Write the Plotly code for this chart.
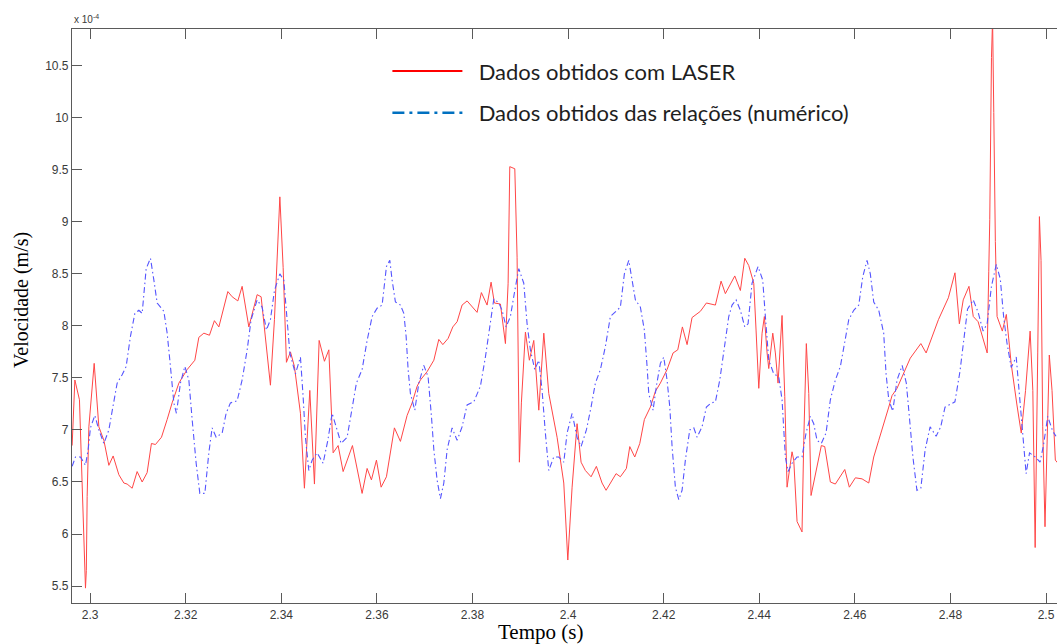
import plotly.graph_objects as go

# Velocity in units of 1e-4 m/s, time in s
laser_t = [
    2.29623, 2.29680, 2.29776, 2.29847, 2.29902, 2.29920, 2.29937, 2.29973, 2.30084, 2.30182,
    2.30287, 2.30391, 2.30481, 2.30600, 2.30705, 2.30774, 2.30879, 2.30983, 2.31088, 2.31192,
    2.31282, 2.31366, 2.31492, 2.31611, 2.31715, 2.31856, 2.32029, 2.32190, 2.32274, 2.32379,
    2.32496, 2.32600, 2.32693, 2.32881, 2.32971, 2.33090, 2.33180, 2.33320, 2.33494, 2.33577,
    2.33772, 2.33856, 2.33969, 2.34038, 2.34107, 2.34191, 2.34274, 2.34400, 2.34483, 2.34596,
    2.34693, 2.34791, 2.34902, 2.34994, 2.35084, 2.35188, 2.35293, 2.35488, 2.35690, 2.35795,
    2.35885, 2.35990, 2.36088, 2.36199, 2.36366, 2.36492, 2.36632, 2.36737, 2.36841, 2.36910,
    2.37050, 2.37191, 2.37295, 2.37379, 2.37490, 2.37588, 2.37678, 2.37782, 2.37887, 2.38096,
    2.38186, 2.38305, 2.38389, 2.38458, 2.38584, 2.38689, 2.38745, 2.38780, 2.38885, 2.38933,
    2.38981, 2.39023, 2.39107, 2.39190, 2.39282, 2.39387, 2.39492, 2.39596, 2.39770, 2.39910,
    2.39994, 2.40084, 2.40188, 2.40272, 2.40362, 2.40481, 2.40592, 2.40711, 2.40795, 2.41004,
    2.41094, 2.41220, 2.41291, 2.41395, 2.41500, 2.41596, 2.41722, 2.41826, 2.41931, 2.42071,
    2.42197, 2.42295, 2.42392, 2.42490, 2.42594, 2.42768, 2.42894, 2.43082, 2.43201, 2.43291,
    2.43488, 2.43605, 2.43697, 2.43780, 2.43885, 2.43933, 2.43990, 2.44059, 2.44107, 2.44164,
    2.44199, 2.44283, 2.44337, 2.44393, 2.44477, 2.44534, 2.44582, 2.44686, 2.44722, 2.44791,
    2.44895, 2.44931, 2.44985, 2.45036, 2.45084, 2.45299, 2.45370, 2.45488, 2.45592, 2.45789,
    2.45885, 2.46011, 2.46151, 2.46291, 2.46395, 2.46500, 2.46626, 2.46710, 2.46778, 2.46883,
    2.47160, 2.47381, 2.47492, 2.47749, 2.47957, 2.48095, 2.48187, 2.48268, 2.48388, 2.48478,
    2.48580, 2.48685, 2.48769, 2.48802, 2.48823, 2.48859, 2.48882, 2.48907, 2.48940, 2.48976,
    2.49086, 2.49170, 2.49273, 2.49392, 2.49482, 2.49572, 2.49668, 2.49724, 2.49773, 2.49827,
    2.49862, 2.49896, 2.49931, 2.49979, 2.50036, 2.50069, 2.50126, 2.50195, 2.50250,
]
laser_v = [
    6.85, 7.48, 7.29, 6.20, 5.48, 5.65, 6.36, 7.03, 7.64, 7.03,
    6.90, 6.66, 6.75, 6.57, 6.49, 6.48, 6.44, 6.60, 6.50, 6.59,
    6.87, 6.86, 6.93, 7.10, 7.26, 7.45, 7.58, 7.67, 7.89, 7.93,
    7.91, 8.05, 7.99, 8.33, 8.28, 8.24, 8.38, 7.99, 8.30, 8.28,
    7.43, 8.06, 9.24, 8.56, 7.65, 7.75, 7.61, 7.16, 6.44, 7.38,
    6.48, 7.86, 7.66, 7.77, 6.78, 6.85, 6.60, 6.85, 6.39, 6.63,
    6.52, 6.71, 6.45, 6.55, 7.02, 6.89, 7.14, 7.26, 7.42, 7.48,
    7.56, 7.67, 7.87, 7.82, 7.88, 7.99, 8.04, 8.20, 8.24, 8.13,
    8.32, 8.20, 8.42, 8.22, 8.21, 7.83, 8.41, 9.53, 9.51, 8.66,
    6.69, 7.26, 7.94, 7.67, 7.86, 7.19, 7.93, 7.35, 6.93, 6.49,
    5.75, 6.45, 7.06, 6.69, 6.61, 6.55, 6.65, 6.49, 6.42, 6.58,
    6.55, 6.63, 6.84, 6.74, 6.87, 7.10, 7.22, 7.37, 7.45, 7.58,
    7.74, 7.77, 7.99, 7.82, 8.08, 8.14, 8.22, 8.20, 8.43, 8.31,
    8.48, 8.34, 8.65, 8.58, 8.41, 7.96, 7.40, 7.93, 8.09, 7.74,
    7.59, 7.93, 7.74, 7.45, 8.10, 7.32, 6.45, 6.79, 6.71, 6.12,
    6.02, 6.90, 7.83, 7.35, 6.37, 6.85, 6.84, 6.50, 6.48, 6.62,
    6.45, 6.54, 6.53, 6.49, 6.74, 6.90, 7.08, 7.22, 7.33, 7.40,
    7.69, 7.83, 7.74, 8.06, 8.27, 8.51, 8.02, 8.25, 8.38, 8.09,
    8.04, 7.86, 7.74, 8.52, 9.02, 10.58, 10.95, 10.05, 8.81, 8.09,
    7.95, 8.11, 7.63, 7.24, 6.97, 7.38, 7.95, 7.38, 5.87, 7.74,
    9.05, 8.63, 7.03, 6.07, 7.20, 7.72, 7.38, 6.71, 6.68,
]

numeric_t = [
    2.29623, 2.29692, 2.29797, 2.29902, 2.29958, 2.30006, 2.30098, 2.30182, 2.30287, 2.30391,
    2.30475, 2.30565, 2.30669, 2.30753, 2.30843, 2.30935, 2.31019, 2.31088, 2.31172, 2.31262,
    2.31333, 2.31402, 2.31542, 2.31611, 2.31680, 2.31751, 2.31805, 2.31889, 2.31981, 2.32065,
    2.32134, 2.32218, 2.32295, 2.32400, 2.32483, 2.32552, 2.32636, 2.32762, 2.32845, 2.32935,
    2.33075, 2.33180, 2.33285, 2.33368, 2.33494, 2.33598, 2.33688, 2.33772, 2.33856, 2.33969,
    2.34052, 2.34121, 2.34178, 2.34295, 2.34400, 2.34456, 2.34504, 2.34575, 2.34644, 2.34749,
    2.34874, 2.34973, 2.35063, 2.35167, 2.35251, 2.35377, 2.35481, 2.35571, 2.35690, 2.35795,
    2.35900, 2.36004, 2.36109, 2.36199, 2.36270, 2.36318, 2.36387, 2.36492, 2.36563, 2.36611,
    2.36653, 2.36701, 2.36793, 2.36877, 2.36981, 2.37071, 2.37141, 2.37191, 2.37259, 2.37329,
    2.37400, 2.37469, 2.37573, 2.37678, 2.37782, 2.37887, 2.38027, 2.38165, 2.38270, 2.38354,
    2.38446, 2.38550, 2.38619, 2.38703, 2.38793, 2.38885, 2.38969, 2.39073, 2.39142, 2.39211,
    2.39303, 2.39387, 2.39456, 2.39525, 2.39596, 2.39700, 2.39805, 2.39910, 2.39979, 2.40084,
    2.40188, 2.40272, 2.40383, 2.40481, 2.40571, 2.40676, 2.40780, 2.40885, 2.40990, 2.41094,
    2.41178, 2.41270, 2.41339, 2.41408, 2.41513, 2.41596, 2.41653, 2.41688, 2.41778, 2.41847,
    2.41931, 2.42002, 2.42071, 2.42128, 2.42176, 2.42245, 2.42316, 2.42385, 2.42454, 2.42546,
    2.42630, 2.42699, 2.42803, 2.42894, 2.42992, 2.43082, 2.43174, 2.43257, 2.43362, 2.43431,
    2.43515, 2.43605, 2.43697, 2.43766, 2.43849, 2.43975, 2.44073, 2.44128, 2.44199, 2.44303,
    2.44408, 2.44477, 2.44513, 2.44546, 2.44603, 2.44686, 2.44791, 2.44895, 2.44979, 2.45069,
    2.45140, 2.45209, 2.45299, 2.45397, 2.45488, 2.45592, 2.45697, 2.45789, 2.45873, 2.45977,
    2.46082, 2.46165, 2.46255, 2.46324, 2.46395, 2.46500, 2.46604, 2.46653, 2.46710, 2.46793,
    2.46883, 2.46990, 2.47077, 2.47146, 2.47215, 2.47299, 2.47381, 2.47471, 2.47575, 2.47701,
    2.47797, 2.47887, 2.48094, 2.48199, 2.48268, 2.48358, 2.48477, 2.48580, 2.48684, 2.48768,
    2.48858, 2.48960, 2.49044, 2.49113, 2.49182, 2.49272, 2.49377, 2.49433, 2.49502, 2.49584,
    2.49655, 2.49778, 2.49875, 2.49946, 2.50036, 2.50138, 2.50209,
]
numeric_v = [
    6.65, 6.74, 6.74, 6.66, 6.81, 7.02, 7.14, 7.00, 6.87, 7.00,
    7.22, 7.45, 7.53, 7.61, 7.90, 8.12, 8.15, 8.12, 8.55, 8.65,
    8.44, 8.22, 8.14, 7.93, 7.61, 7.26, 7.16, 7.45, 7.61, 7.48,
    7.10, 6.68, 6.39, 6.39, 6.78, 7.02, 6.93, 6.97, 7.16, 7.26,
    7.28, 7.48, 7.77, 8.06, 8.25, 8.18, 7.96, 8.06, 8.34, 8.50,
    8.44, 8.06, 7.74, 7.54, 7.70, 7.32, 6.93, 6.61, 6.71, 6.78,
    6.68, 6.90, 7.16, 7.00, 6.87, 6.93, 7.22, 7.45, 7.58, 7.86,
    8.09, 8.17, 8.20, 8.57, 8.63, 8.44, 8.23, 8.20, 8.12, 7.90,
    7.58, 7.35, 7.19, 7.45, 7.62, 7.51, 7.13, 6.81, 6.52, 6.34,
    6.49, 6.81, 7.02, 6.90, 7.03, 7.24, 7.27, 7.42, 7.70, 7.99,
    8.26, 8.22, 8.15, 7.99, 8.09, 8.34, 8.55, 8.41, 8.02, 7.77,
    7.58, 7.67, 7.38, 6.97, 6.61, 6.74, 6.74, 6.69, 6.97, 7.16,
    6.93, 6.84, 7.00, 7.22, 7.45, 7.58, 7.80, 8.09, 8.14, 8.18,
    8.50, 8.63, 8.44, 8.25, 8.18, 7.96, 7.61, 7.35, 7.19, 7.42,
    7.64, 7.70, 7.48, 7.22, 6.84, 6.45, 6.33, 6.42, 6.71, 7.00,
    7.02, 6.93, 7.03, 7.22, 7.26, 7.27, 7.48, 7.77, 8.09, 8.20,
    8.25, 8.15, 7.99, 8.02, 8.41, 8.57, 8.44, 8.09, 7.67, 7.54,
    7.51, 7.29, 6.97, 6.74, 6.60, 6.68, 6.74, 6.74, 6.97, 7.13,
    7.06, 6.90, 6.87, 6.97, 7.29, 7.48, 7.61, 7.83, 8.06, 8.15,
    8.20, 8.47, 8.63, 8.50, 8.23, 8.15, 7.93, 7.54, 7.29, 7.18,
    7.48, 7.62, 7.45, 7.10, 6.74, 6.42, 6.44, 6.81, 7.03, 6.94,
    7.03, 7.22, 7.27, 7.56, 7.81, 8.16, 8.25, 8.13, 7.95, 8.02,
    8.38, 8.59, 8.45, 8.09, 7.84, 7.60, 7.70, 7.38, 6.96, 6.58,
    6.78, 6.74, 6.69, 6.85, 7.13, 6.99, 6.94,
]

x_ticks = [2.30, 2.32, 2.34, 2.36, 2.38, 2.40, 2.42, 2.44, 2.46, 2.48, 2.50]
x_tick_labels = ["2.3", "2.32", "2.34", "2.36", "2.38", "2.4", "2.42", "2.44", "2.46", "2.48", "2.5"]
y_ticks = [5.5, 6.0, 6.5, 7.0, 7.5, 8.0, 8.5, 9.0, 9.5, 10.0, 10.5]
y_tick_labels = ["5.5", "6", "6.5", "7", "7.5", "8", "8.5", "9", "9.5", "10", "10.5"]

series_names = ["Dados obtidos com LASER", "Dados obtidos das relações (numérico)"]

x_range = [2.2962, 2.5023]
y_range = [5.337, 10.853]

axis_color = "#5a5a5a"
tick_font = dict(family="Liberation Sans, Arial, sans-serif", size=12, color="#3a3a3a")
serif = "Liberation Serif, Times New Roman, serif"
pad = "\u00a0\u00a0"  # small gap between legend sample and its text

fig = go.Figure()

# measured signal
fig.add_trace(go.Scatter(
    x=laser_t, y=laser_v, mode="lines", showlegend=False,
    line=dict(color="rgb(255,70,70)", width=1),
))
# numerical signal
fig.add_trace(go.Scatter(
    x=numeric_t, y=numeric_v, mode="lines", showlegend=False,
    line=dict(color="rgb(85,85,255)", width=1.1, dash="6px,3px,1.5px,3px"),
))

# legend entries
fig.add_trace(go.Scatter(
    x=[None], y=[None], mode="lines", name=pad + series_names[0], legendgroup="a",
    line=dict(color="#ff0000", width=2),
))
fig.add_trace(go.Scatter(
    x=[None], y=[None], mode="lines", name=pad + series_names[1], legendgroup="b",
    line=dict(color="#0070c0", width=2.5, dash="12px,5px,3px,5px"),
))

fig.update_layout(
    width=1057, height=644,
    margin=dict(l=72, r=0, t=29, b=41),
    paper_bgcolor="white", plot_bgcolor="white",
    xaxis=dict(
        range=x_range, tickvals=x_ticks, ticktext=x_tick_labels,
        ticks="inside", ticklen=10, tickwidth=1, tickcolor=axis_color,
        showline=True, linecolor=axis_color, linewidth=1.2, mirror="ticks",
        showgrid=False, zeroline=False, tickfont=tick_font,
    ),
    yaxis=dict(
        range=y_range, tickvals=y_ticks, ticktext=y_tick_labels,
        ticks="inside", ticklen=10, tickwidth=1, tickcolor=axis_color,
        showline=True, linecolor=axis_color, linewidth=1.2, mirror=False,
        showgrid=False, zeroline=False, tickfont=tick_font,
    ),
    yaxis2=dict(
        overlaying="y", side="right", anchor="x",
        range=y_range, tickvals=y_ticks,
        ticks="inside", ticklen=10, tickwidth=1, tickcolor=axis_color,
        showline=False, showticklabels=False, showgrid=False, zeroline=False,
    ),
    legend=dict(
        x=0.3202, y=0.963, xanchor="left", yanchor="top",
        bgcolor="rgba(0,0,0,0)", borderwidth=0, itemwidth=70,
        tracegroupgap=10,
        font=dict(family="Lato, Open Sans, sans-serif", size=22, color="#1e1e1e"),
    ),
    annotations=[
        dict(text="x 10<sup>-4</sup>", xref="paper", yref="paper", x=0, y=1,
             xanchor="left", yanchor="bottom", yshift=2, showarrow=False,
             font=dict(family="Liberation Sans, Arial, sans-serif", size=10, color="#3a3a3a")),
        dict(text="Velocidade (m/s)", xref="paper", yref="paper",
             x=(22 - 72) / 985, y=0.528, textangle=-90,
             xanchor="center", yanchor="middle", showarrow=False,
             font=dict(family=serif, size=20, color="black")),
        dict(text="Tempo (s)", xref="paper", yref="paper",
             x=0.476, y=-0.0505, xanchor="center", yanchor="middle", showarrow=False,
             font=dict(family=serif, size=21, color="black")),
    ],
)

fig.write_html("out.html")
